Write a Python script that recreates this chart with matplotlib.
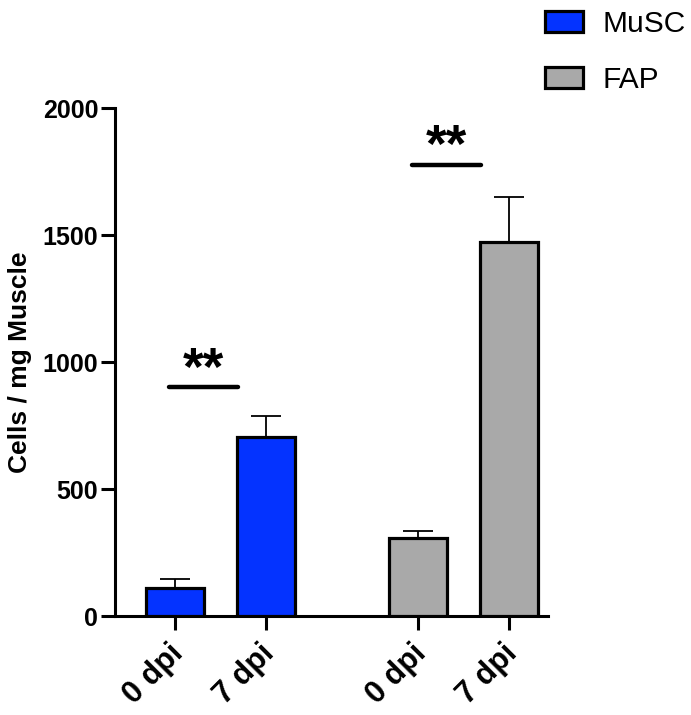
import matplotlib
matplotlib.use("Agg")
import matplotlib.pyplot as plt
import matplotlib.transforms as mtransforms
from matplotlib.patches import Patch

groups = ["MuSC", "FAP"]
tick_labels = ["0 dpi", "7 dpi", "0 dpi", "7 dpi"]
musc_mean = [110, 707]
musc_sem = [37, 83]
fap_mean = [307, 1472]
fap_sem = [29, 180]
sig_labels = ["**", "**"]
sig_heights = [901, 1777]

colors = {"MuSC": "#0433FF", "FAP": "#A9A9A9"}
plt.rcParams["font.family"] = ["Liberation Sans", "DejaVu Sans"]

fig = plt.figure(figsize=(6.91, 7.15), dpi=100)
ax = fig.add_axes([0.1664, 0.138, 0.793 - 0.1664, 0.8485 - 0.138])

pos = {"MuSC": [0.0, 1.0], "FAP": [2.67, 3.67]}
vals = {"MuSC": (musc_mean, musc_sem), "FAP": (fap_mean, fap_sem)}
width = 0.64
for g in groups:
    m, s = vals[g]
    ax.bar(pos[g], m, width=width, color=colors[g], edgecolor="black",
           linewidth=2.3, zorder=3, label=g)
    ax.errorbar(pos[g], m, yerr=[[0] * len(s), s], fmt="none", ecolor="black",
                elinewidth=1.3, capsize=11, capthick=1.3, zorder=2)

for g, lab, h in zip(groups, sig_labels, sig_heights):
    x0 = pos[g][0]
    ax.plot([x0 - 0.07, x0 + 0.69], [h, h], color="black", lw=3.2,
            solid_capstyle="round", zorder=4)
    ax.annotate(lab, xy=(x0 + 0.31, h), xytext=(0, 2), textcoords="offset points",
                ha="center", va="baseline", fontsize=38, fontweight="bold",
                color="black")

ax.set_xlim(-0.66, 4.1)
ax.set_ylim(0, 2000)
ax.set_yticks([0, 500, 1000, 1500, 2000])
ax.set_xticks(pos["MuSC"] + pos["FAP"])
ax.set_xticklabels(tick_labels, rotation=45, ha="right", va="top",
                   rotation_mode="anchor", fontsize=22, fontweight="bold")
for t in ax.get_yticklabels():
    t.set_fontweight("bold")
    t.set_fontsize(18)
ax.set_ylabel("Cells / mg Muscle", fontsize=19, fontweight="bold", labelpad=8)

for sp in ["top", "right"]:
    ax.spines[sp].set_visible(False)
for sp in ["left", "bottom"]:
    ax.spines[sp].set_linewidth(2.2)
ax.tick_params(axis="both", width=2.2, length=10)
ax.tick_params(axis="y", pad=2)
ax.tick_params(axis="x", pad=6)

handles = [Patch(facecolor=colors[g], edgecolor="black", linewidth=2.3) for g in groups]
fig.legend(handles, groups, loc="upper left", bbox_to_anchor=(545 / 691, 1 - 10 / 715),
           frameon=False, fontsize=21.5, handlelength=1.27, handleheight=0.74,
           handletextpad=0.67, labelspacing=0.93, borderpad=0, borderaxespad=0)

fig.canvas.draw()
offset = mtransforms.ScaledTranslation(-7 / 100, 0, fig.dpi_scale_trans)
for tick in ax.xaxis.get_major_ticks():
    tick.label1.set_transform(tick.label1.get_transform() + offset)

fig.savefig("out.png", dpi=100)
